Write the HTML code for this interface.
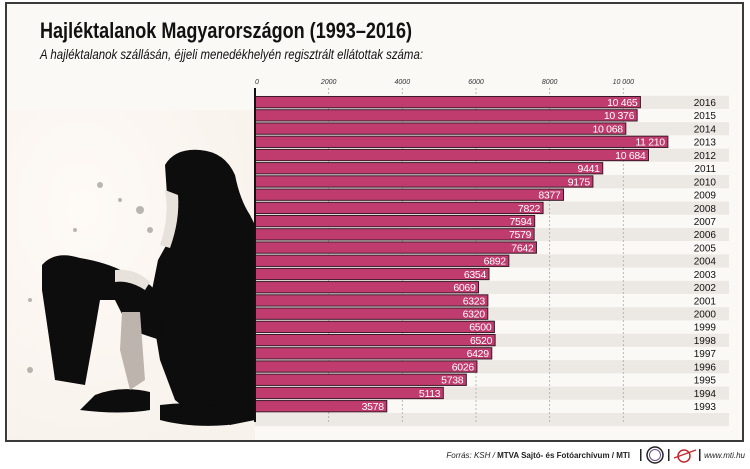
<!DOCTYPE html>
<html><head><meta charset="utf-8"><style>
html,body{margin:0;padding:0;background:#fff;}
svg{display:block;font-family:"Liberation Sans",sans-serif;}
</style></head><body>
<svg id="s" width="750" height="469" viewBox="0 0 750 469" xmlns="http://www.w3.org/2000/svg">
<defs>
<radialGradient id="bg" cx="0.3" cy="0.3" r="0.8"><stop offset="0" stop-color="#fefaf6"/><stop offset="1" stop-color="#f8f2ec"/></radialGradient>
</defs>
<rect x="0" y="0" width="750" height="469" fill="#ffffff"/>
<rect x="6" y="3" width="737" height="438" fill="#fbf9f6" stroke="#3a3a3a" stroke-width="2"/>
<rect x="8" y="110" width="247" height="330" fill="url(#bg)"/>
<text x="40" y="38" font-size="22" font-weight="bold" textLength="372" lengthAdjust="spacingAndGlyphs" fill="#111">Hajléktalanok Magyarországon (1993–2016)</text>
<text x="40" y="59" font-size="14" font-style="italic" textLength="383" lengthAdjust="spacingAndGlyphs" fill="#111">A hajléktalanok szállásán, éjjeli menedékhelyén regisztrált ellátottak száma:</text>
<g fill="#0d0d0d">
<path d="M165 165 Q175 148 200 150 Q225 152 235 175 Q240 200 250 215 L255 225 L255 420 L230 425 L200 420 L175 400 L160 360 L150 300 L158 260 L172 235 L168 210 Z"/>
<path d="M42 265 Q55 250 80 258 Q105 262 125 272 L150 285 L165 300 L160 340 L130 330 L115 300 L100 300 Q95 330 85 385 L55 380 Q48 330 42 290 Z"/>
<path d="M95 395 Q120 385 150 392 L150 410 Q120 415 80 410 Z"/>
<path d="M160 405 Q200 400 230 410 L228 425 Q190 428 160 420 Z"/>
</g>
<g fill="#e8e2dc">
<path d="M165 190 Q170 215 160 245 L170 248 Q180 220 178 195 Z"/>
<path d="M115 270 Q135 268 150 282 L145 290 Q130 280 115 282 Z"/>
<path d="M122 312 L140 312 L145 380 L130 390 L120 350 Z" fill="#bdb5ad"/>
</g>
<g fill="#7a746e" opacity="0.5">
<circle cx="100" cy="185" r="3"/><circle cx="120" cy="200" r="2"/><circle cx="140" cy="210" r="4"/><circle cx="75" cy="230" r="2"/><circle cx="30" cy="300" r="2"/><circle cx="30" cy="370" r="3"/><circle cx="150" cy="230" r="3"/>
</g>
<g id="chart"></g>
<text x="630" y="458" font-size="8" text-anchor="end" fill="#222"><tspan font-style="italic">Forrás: KSH / </tspan><tspan font-weight="bold">MTVA Sajtó- és Fotóarchívum / MTI</tspan></text>
<rect x="640" y="449" width="1.5" height="12" fill="#222"/>
<circle cx="655" cy="455" r="8" fill="none" stroke="#222" stroke-width="1.5"/>
<circle cx="655" cy="455" r="5.5" fill="none" stroke="#6a4a8a" stroke-width="1"/>
<rect x="668" y="449" width="1.5" height="12" fill="#222"/>
<circle cx="684" cy="456" r="6" fill="none" stroke="#c0292f" stroke-width="1.5"/>
<line x1="674" y1="458" x2="696" y2="450" stroke="#c0292f" stroke-width="1.2"/>
<rect x="699" y="449" width="1.5" height="12" fill="#222"/>
<text x="745" y="458" font-size="8" font-style="italic" text-anchor="end" fill="#222">www.mti.hu</text>
</svg>
<script>
var d=[[2016,10465],[2015,10376],[2014,10068],[2013,11210],[2012,10684],[2011,9441],[2010,9175],[2009,8377],[2008,7822],[2007,7594],[2006,7579],[2005,7642],[2004,6892],[2003,6354],[2002,6069],[2001,6323],[2000,6320],[1999,6500],[1998,6520],[1997,6429],[1996,6026],[1995,5738],[1994,5113],[1993,3578]];
var x0=255,k=0.03683,y0=96.5,p=13.22,h='';
for(var i=0;i<25;i++){var y=y0+i*p-0.8;if(i%2==0)h+='<rect x="'+x0+'" y="'+y+'" width="474" height="'+p+'" fill="#ece8e3"/>';}
for(var t=2000;t<=10000;t+=2000){var x=x0+t*k;h+='<line x1="'+x+'" y1="88" x2="'+x+'" y2="422" stroke="#aaa" stroke-width="0.8" stroke-dasharray="2,2"/>';h+='<text x="'+x+'" y="84" font-size="7" font-style="italic" text-anchor="middle" fill="#333">'+(t==10000?'10 000':t)+'</text>';}
h+='<text x="'+(x0+2)+'" y="84" font-size="7" font-style="italic" text-anchor="middle" fill="#333">0</text>';
function f(v){return v>=10000?String(v).replace(/^(\d\d)/,'$1 '):String(v);}
d.forEach(function(r,i){var y=y0+i*p,w=r[1]*k;
h+='<rect x="'+x0+'" y="'+y+'" width="'+w+'" height="11.3" fill="#c03c6f" stroke="#3a1a28" stroke-width="1"/>';
h+='<text x="'+(x0+w-3)+'" y="'+(y+9.5)+'" font-size="10.5" text-anchor="end" fill="#fff" style="letter-spacing:-0.3px">'+f(r[1])+'</text>';
h+='<text x="716" y="'+(y+9.5)+'" font-size="10" text-anchor="end" fill="#111">'+r[0]+'</text>';});
h+='<rect x="254" y="88" width="2" height="334" fill="#111"/>';
document.getElementById('chart').innerHTML=h;
</script>
</body></html>
